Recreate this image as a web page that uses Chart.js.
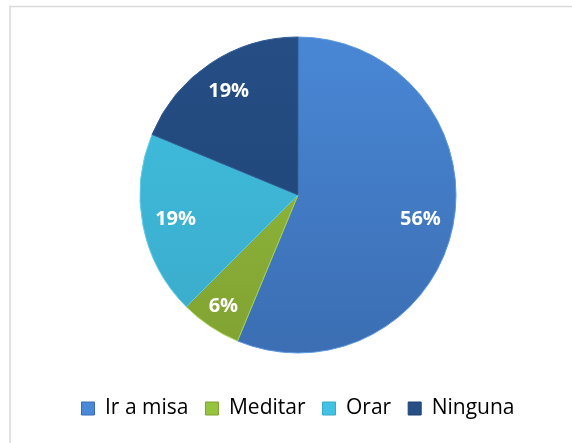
<!DOCTYPE html>
<html>
<head>
<meta charset="utf-8">
<script src="https://cdn.jsdelivr.net/npm/chart.js@4"></script>
<style>
  html, body { margin: 0; padding: 0; background: #fff; }
  #wrap { width: 572px; height: 443px; }
</style>
</head>
<body>
<div id="wrap"><canvas id="pie-chart" width="572" height="443"></canvas></div>
<script>
'use strict';

var categories = ['Ir a misa', 'Meditar', 'Orar', 'Ninguna'];
var shares = [56.25, 6.25, 18.75, 18.75];
var shownLabels = ['56%', '6%', '19%', '19%'];

// light / dark pairs for the vertical shading of each slice
var topColors = ['#4a89d8', '#97c43f', '#41c2e2', '#264f86'];
var bottomColors = ['#3a6cb0', '#7f9f31', '#3aa8c8', '#1e4273'];
var edgeColors = ['#5b97e0', '#a8d050', '#5ccde8', '#2f5c94'];

function sliceFill(context) {
  var chart = context.chart;
  var area = chart.chartArea;
  if (!area) {
    return topColors[context.dataIndex];
  }
  var g = chart.ctx.createLinearGradient(0, area.top, 0, area.bottom);
  g.addColorStop(0, topColors[context.dataIndex]);
  g.addColorStop(1, bottomColors[context.dataIndex]);
  return g;
}

// thin grey frame (only top and left edges are visible in the picture)
var framePlugin = {
  id: 'frame',
  beforeDraw: function(chart) {
    var ctx = chart.ctx;
    ctx.save();
    ctx.strokeStyle = '#d9d9d9';
    ctx.lineWidth = 1.5;
    ctx.beginPath();
    ctx.moveTo(10, chart.height);
    ctx.lineTo(10, 6.5);
    ctx.lineTo(chart.width, 6.5);
    ctx.stroke();
    ctx.restore();
  }
};

// percentage labels inside the slices
var labelPlugin = {
  id: 'sliceLabels',
  afterDatasetsDraw: function(chart) {
    var ctx = chart.ctx;
    var meta = chart.getDatasetMeta(0);
    ctx.save();
    ctx.fillStyle = '#ffffff';
    ctx.font = 'bold 20px "Open Sans", "Noto Sans", sans-serif';
    ctx.textAlign = 'center';
    ctx.textBaseline = 'middle';
    for (var i = 0; i < meta.data.length; i++) {
      var arc = meta.data[i];
      var mid = (arc.startAngle + arc.endAngle) / 2;
      var dist = arc.outerRadius * (i === 1 ? 0.85 : 0.79);
      ctx.fillText(shownLabels[i], arc.x + Math.cos(mid) * dist, arc.y + Math.sin(mid) * dist);
    }
    ctx.restore();
  }
};

var ctx = document.getElementById('pie-chart').getContext('2d');
var chart = new Chart(ctx, {
  type: 'pie',
  data: {
    labels: categories,
    datasets: [{
      data: shares,
      backgroundColor: sliceFill,
      borderColor: edgeColors,
      borderWidth: 1
    }]
  },
  options: {
    responsive: false,
    animation: false,
    radius: 158,
    layout: {
      padding: { top: 9, left: 24, right: 0, bottom: 14 }
    },
    plugins: {
      tooltip: { enabled: false },
      legend: {
        position: 'bottom',
        labels: {
          color: '#595959',
          font: { family: '"Open Sans", "Noto Sans", sans-serif', size: 21 },
          boxWidth: 13,
          boxHeight: 13,
          padding: 17,
          generateLabels: function(c) {
            return categories.map(function(name, i) {
              return {
                text: name,
                fillStyle: topColors[i],
                strokeStyle: bottomColors[i],
                lineWidth: 1,
                index: i
              };
            });
          }
        }
      }
    }
  },
  plugins: [framePlugin, labelPlugin]
});
</script>
</body>
</html>
